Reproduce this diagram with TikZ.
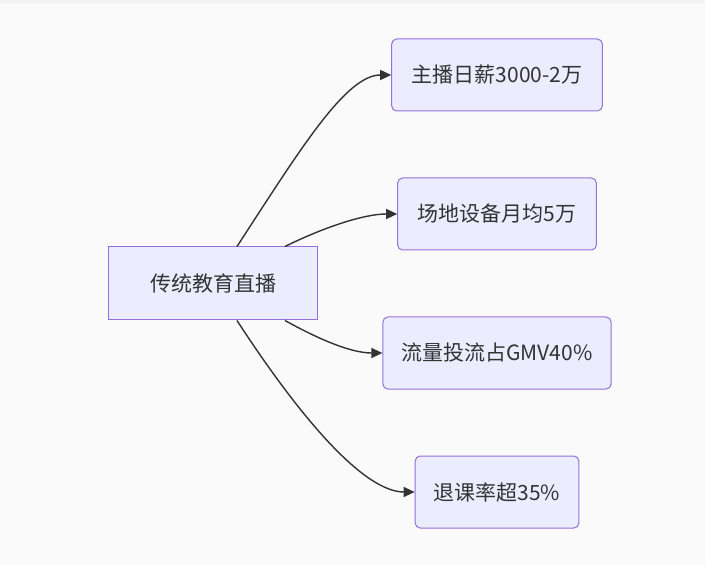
\documentclass[tikz,border=0pt]{standalone}
\usepackage{fontspec}
\setmainfont{Noto Sans CJK SC}
\usetikzlibrary{arrows.meta}
\definecolor{nodefill}{HTML}{ECECFF}
\definecolor{nodeline}{HTML}{9370DB}
\definecolor{linkline}{HTML}{333333}
\definecolor{canvas}{HTML}{FAFAFA}
\definecolor{topband}{HTML}{F2F2F2}
\tikzset{
  box/.style={draw=nodeline, fill=nodefill, line width=1pt, rounded corners=5pt,
    minimum height=72pt, inner xsep=20pt, text=linkline,
    font=\fontsize{21}{25}\selectfont},
  rootbox/.style={box, sharp corners, minimum width=209pt, minimum height=73pt},
  link/.style={draw=linkline, line width=1.4pt, -{Triangle[length=11pt,width=10pt]}}
}
\begin{document}
\begin{tikzpicture}[x=1pt, y=1pt, grow'=right, level distance=283.5pt,
  level 1/.style={sibling distance=139pt},
  edge from parent/.style={draw=none}]
  \fill[canvas] (-213.5,-281.5) rectangle (491.5,283.5);
  \fill[topband] (-213.5,280.5) rectangle (491.5,283.5);
  \node[rootbox] (live) {传统教育直播}
    child {node[box] (salary) {主播日薪3000-2万}}
    child {node[box] (venue) {场地设备月均5万}}
    child {node[box, inner xsep=18.5pt] (traffic) {流量投流占GMV40\%}}
    child {node[box, inner xsep=18.5pt] (refund) {退课率超35\%}};
  % links
  \draw[link] ([xshift=23.5pt]live.north) .. controls +(65,100) and +(-45,0) .. (salary.west);
  \draw[link] ([xshift=71.5pt]live.north) .. controls +(30,15) and +(-37,0) .. (venue.west);
  \draw[link] ([xshift=71.5pt]live.south) .. controls +(27,-15) and +(-34,0) .. (traffic.west);
  \draw[link] ([xshift=23.5pt]live.south) .. controls +(65,-100) and +(-50,0) .. (refund.west);
\end{tikzpicture}
\end{document}
